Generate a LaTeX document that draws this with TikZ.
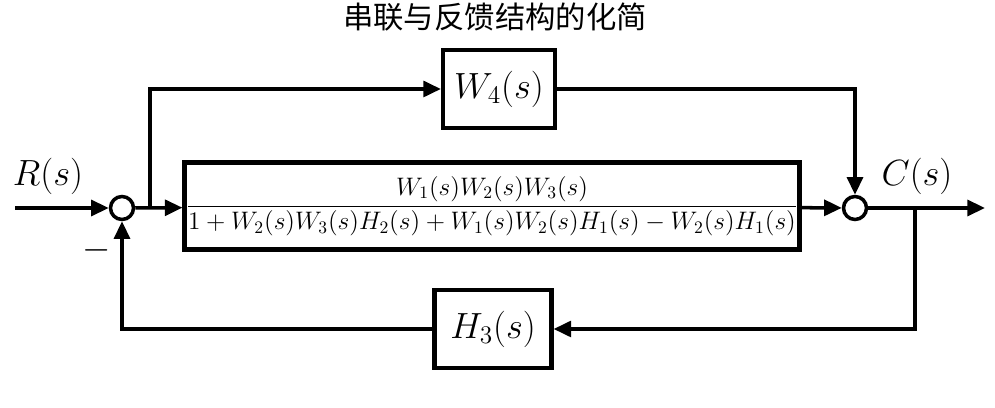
\documentclass[tikz,border=0pt]{standalone}
\usepackage{fontspec}
\newfontfamily\cjk{Noto Sans CJK SC}
\usetikzlibrary{arrows.meta}
\begin{document}
\begin{tikzpicture}[x=0.02cm,y=-0.02cm,
  line width=2pt,
  blk/.style={draw,line width=2.4pt,inner sep=0pt,minimum height=1.56cm,font=\huge},
  sum/.style={draw,circle,line width=2pt,minimum size=0.46cm,inner sep=0pt},
  arr/.style={-{Triangle[length=10pt,width=9pt]}},
  lbl/.style={font=\huge}]
\useasboundingbox (0,0) rectangle (995,408);
\node[font=\cjk\LARGE] (title) at (495,17) {串联与反馈结构的化简};
\node[blk,minimum width=2.24cm] (w4) at (499,89) {$W_4(s)$};
\node[blk,minimum width=12.3cm,minimum height=1.74cm,font=\Large] (g) at (492,206)
  {$\displaystyle\frac{W_1(s)W_2(s)W_3(s)}{1+W_2(s)W_3(s)H_2(s)+W_1(s)W_2(s)H_1(s)-W_2(s)H_1(s)}$};
\node[blk,minimum width=2.34cm] (h3) at (493,329) {$H_3(s)$};
\node[sum] (s1) at (122,208) {};
\node[sum] (s2) at (855,208) {};
\coordinate (in) at (15,208);
\coordinate (out) at (985,208);
\coordinate (b1) at (150,208);
\coordinate (b2) at (915,208);
\node[lbl] (r) at (48,176) {$R(s)$};
\node[lbl] (c) at (917,176) {$C(s)$};
\node[font=\huge] (minus) at (97,250) {$-$};
\draw[arr] (in) -- (s1);
\draw[arr] (s1) -- (g);
\draw[arr] (b1) |- (w4);
\draw[arr] (w4) -| (s2);
\draw[arr] (g) -- (s2);
\draw[arr] (s2) -- (out);
\draw[arr] (b2) |- (h3);
\draw[arr] (h3) -| (s1);
\end{tikzpicture}
\end{document}
